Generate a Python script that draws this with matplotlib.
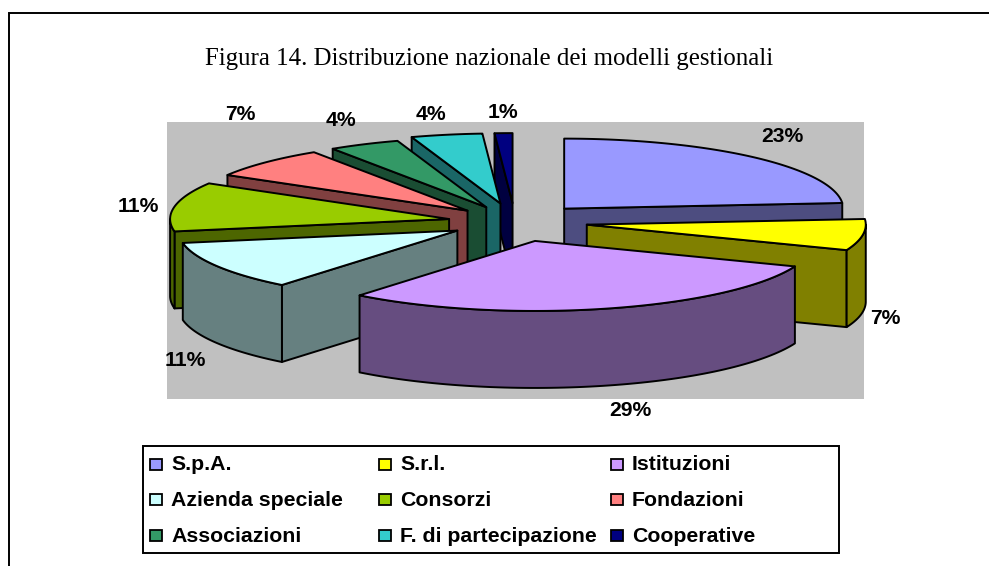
import numpy as np
import matplotlib
matplotlib.use("Agg")
import matplotlib.pyplot as plt
from matplotlib.patches import Polygon, Rectangle

title = "Figura 14. Distribuzione nazionale dei modelli gestionali"
categories = ["S.p.A.", "S.r.l.", "Istituzioni", "Azienda speciale", "Consorzi",
              "Fondazioni", "Associazioni", "F. di partecipazione", "Cooperative"]
values = [23, 7, 29, 11, 11, 7, 4, 4, 1]

# styles and layout
top_colors = ["#9999FF", "#FFFF00", "#CC99FF", "#CCFFFF", "#99CC00",
              "#FF8080", "#339966", "#33CCCC", "#000080"]
side_colors = ["#4D4D80", "#808000", "#664D80", "#668080", "#4D6600",
               "#804040", "#1A4D33", "#1A6666", "#000040"]
explode = [0.26, 0.26, 0.28, 0.24, 0.24, 0.235, 0.235, 0.27, 0.27]
draw_order = [8, 7, 6, 5, 4, 3, 0, 1, 2]
label_xy = [(782, 137), (885, 318), (630, 411), (185, 361), (138, 206),
            (240, 115), (341, 121), (431, 115), (503, 113)]
CX, CY, RX, RY, DEPTH = 515, 222, 279, 70, 77
LW = 1.4

fig = plt.figure(figsize=(9.89, 5.66), dpi=100)
ax = fig.add_axes([0, 0, 1, 1])
ax.set_xlim(0, 989)
ax.set_ylim(566, 0)
ax.axis("off")

SANS = "Liberation Sans"
SERIF = "Liberation Serif"

# outer chart frame (only left and top edges fall inside the picture)
ax.plot([9, 9, 989], [566, 12.5, 12.5], color="black", lw=1.4, solid_joinstyle="miter")
ax.text(489.5, 59, title, family=SERIF, fontsize=17.9, ha="center", va="center")

# plot area
ax.add_patch(Rectangle((167, 122), 697, 277, fc="#C0C0C0", ec="none", zorder=1))


def pt(theta, ox, oy):
    return ox + RX * np.sin(theta), oy - RY * np.cos(theta)


fractions = np.array(values, dtype=float) / sum(values)
edges = np.concatenate([[0], np.cumsum(fractions)]) * 2 * np.pi


def face(points, color, z):
    ax.add_patch(Polygon(points, closed=True, fc=color, ec="black", lw=LW,
                         joinstyle="round", zorder=z))


for rank, i in enumerate(draw_order):
    a, b = edges[i], edges[i + 1]
    mid = (a + b) / 2
    ox = CX + explode[i] * RX * np.sin(mid)
    oy = CY - explode[i] * RY * np.cos(mid)
    z = 2 + rank
    apex = (ox, oy)

    # radial cut faces turned to the viewer
    probe = pt(mid, ox, oy)
    probe = (ox + 0.5 * (probe[0] - ox), oy + 0.5 * (probe[1] - oy))
    for t in (a, b):
        p = pt(t, ox, oy)
        if abs(p[0] - ox) < 1e-6:
            continue
        y_on_edge = oy + (probe[0] - ox) * (p[1] - oy) / (p[0] - ox)
        if probe[1] < y_on_edge:
            face([apex, p, (p[0], p[1] + DEPTH), (ox, oy + DEPTH)], side_colors[i], z)

    # front rim
    lo, hi = max(a, np.pi / 2), min(b, 3 * np.pi / 2)
    if hi > lo:
        ts = np.linspace(lo, hi, 80)
        xs, ys = pt(ts, ox, oy)
        rim = list(zip(xs, ys)) + list(zip(xs[::-1], ys[::-1] + DEPTH))
        face(rim, side_colors[i], z)

    # top
    ts = np.linspace(a, b, 120)
    xs, ys = pt(ts, ox, oy)
    face([apex] + list(zip(xs, ys)), top_colors[i], z)

# data labels
for v, (lx, ly) in zip(values, label_xy):
    ax.text(lx, ly, f"{v}%", family=SANS, weight="bold", fontsize=15.2,
            ha="center", va="center", zorder=30)

# legend
ax.add_patch(Rectangle((143, 446), 696, 107, fc="white", ec="black", lw=1.4, zorder=31))
col_x = [150, 379, 611]
row_y = [464, 499.5, 535]
for i, name in enumerate(categories):
    r, c = divmod(i, 3)
    ax.add_patch(Rectangle((col_x[c], row_y[r] - 5.5), 12, 11, fc=top_colors[i], ec="black",
                           lw=1.3, zorder=32))
    ax.text(col_x[c] + 21, row_y[r] + 1, name, family=SANS, weight="bold", fontsize=15.3,
            ha="left", va="center", zorder=32)

fig.savefig("out.png", dpi=100)
